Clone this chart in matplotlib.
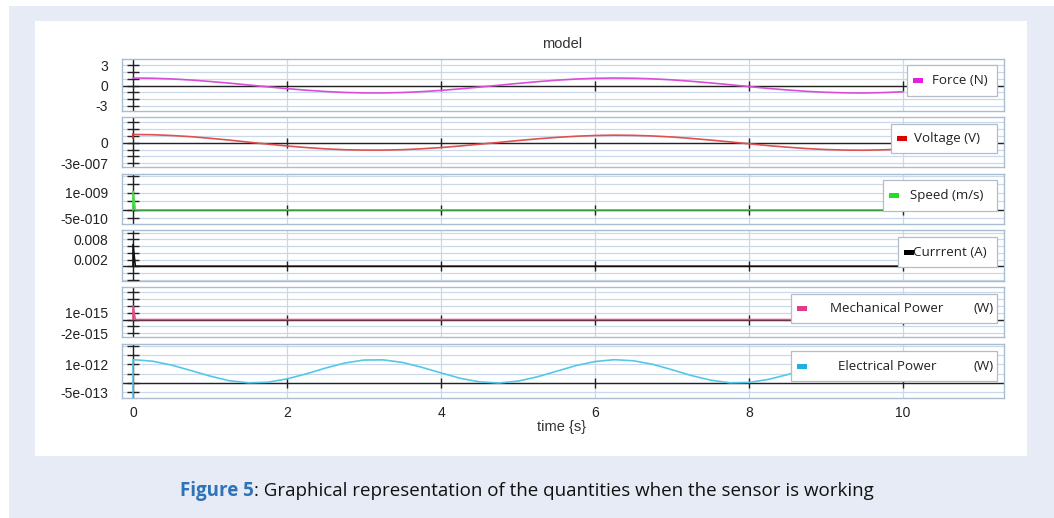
import matplotlib
matplotlib.use("Agg")
import matplotlib.pyplot as plt
from matplotlib.patches import Rectangle

# ---------------- data ----------------
time_s = [0.0, 0.25, 0.5, 0.75, 1.0, 1.25, 1.5, 1.75, 2.0, 2.25, 2.5, 2.75,
          3.0, 3.25, 3.5, 3.75, 4.0, 4.25, 4.5, 4.75, 5.0, 5.25, 5.5, 5.75,
          6.0, 6.25, 6.5, 6.75, 7.0, 7.25, 7.5, 7.75, 8.0, 8.25, 8.5, 8.75,
          9.0, 9.25, 9.5, 9.75, 10.0]

force_N = [1.10, 1.07, 0.97, 0.81, 0.59, 0.35, 0.08, -0.20, -0.46, -0.69, -0.88,
           -1.02, -1.09, -1.09, -1.03, -0.90, -0.72, -0.49, -0.23, 0.04, 0.31,
           0.56, 0.78, 0.95, 1.06, 1.10, 1.07, 0.98, 0.83, 0.62, 0.38, 0.12,
           -0.16, -0.43, -0.66, -0.86, -1.00, -1.08, -1.10, -1.04, -0.92]

voltage_V = [1.20e-7, 1.16e-7, 1.05e-7, 0.88e-7, 0.64e-7, 0.38e-7, 0.08e-7,
             -0.21e-7, -0.48e-7, -0.71e-7, -0.90e-7, -1.03e-7, -1.08e-7,
             -1.08e-7, -1.02e-7, -0.89e-7, -0.71e-7, -0.48e-7, -0.22e-7,
             0.04e-7, 0.31e-7, 0.56e-7, 0.77e-7, 0.94e-7, 1.05e-7, 1.10e-7,
             1.07e-7, 0.98e-7, 0.83e-7, 0.62e-7, 0.38e-7, 0.12e-7, -0.16e-7,
             -0.43e-7, -0.66e-7, -0.86e-7, -1.00e-7, -1.08e-7, -1.10e-7,
             -1.04e-7, -0.92e-7]
voltage_start_t = [0.0, 0.0]
voltage_start_V = [0.64e-7, 1.20e-7]

elec_power_W = [1.25e-12, 1.17e-12, 0.96e-12, 0.67e-12, 0.37e-12, 0.12e-12,
                0.01e-12, 0.04e-12, 0.22e-12, 0.49e-12, 0.80e-12, 1.07e-12,
                1.23e-12, 1.24e-12, 1.10e-12, 0.84e-12, 0.54e-12, 0.25e-12,
                0.06e-12, 0.00e-12, 0.10e-12, 0.33e-12, 0.63e-12, 0.93e-12,
                1.15e-12, 1.25e-12, 1.19e-12, 1.00e-12, 0.71e-12, 0.40e-12,
                0.15e-12, 0.01e-12, 0.03e-12, 0.19e-12, 0.45e-12, 0.76e-12,
                1.04e-12, 1.21e-12, 1.24e-12, 1.12e-12, 0.88e-12]
elec_start_t = [0.0, 0.0]
elec_start_W = [-0.78e-12, 1.25e-12]

spike_time_s = [0.0, 0.0, 0.03, 10.0]
speed_ms = [0.0, 1.1e-9, 0.0, 0.0]
current_A = [0.0, 0.0065, 0.0, 0.0]
mech_power_W = [0.0, 2.0e-15, 0.0, 0.0]

x_ticks = [0, 2, 4, 6, 8, 10]

# per-panel y grid values and labelled ticks
force_grid = [-3, -2, -1, 0, 1, 2, 3]
force_labels = {3: "3", 0: "0", -3: "-3"}
volt_grid = [-3e-7, -2e-7, -1e-7, 0, 1e-7, 2e-7, 3e-7]
volt_labels = {0: "0", -3e-7: "-3e-007"}
speed_grid = [-5e-10, 0, 5e-10, 1e-9, 1.5e-9, 2e-9]
speed_labels = {1e-9: "1e-009", -5e-10: "-5e-010"}
current_grid = [-0.004, -0.002, 0, 0.002, 0.004, 0.006, 0.008, 0.010]
current_labels = {0.008: "0.008", 0.002: "0.002"}
mech_grid = [-2e-15, -1e-15, 0, 1e-15, 2e-15, 3e-15, 4e-15]
mech_labels = {1e-15: "1e-015", -2e-15: "-2e-015"}
elec_grid = [-5e-13, 0, 5e-13, 1e-12, 1.5e-12, 2e-12]
elec_labels = {1e-12: "1e-012", -5e-13: "-5e-013"}

# ---------------- figure ----------------
W, H = 1054, 518
fig = plt.figure(figsize=(W / 100, H / 100), dpi=100)
fig.patch.set_facecolor("white")

def fx(px):
    return px / W

def fy(py):
    return 1 - py / H

# background frames
fig.add_artist(Rectangle((fx(9), 0), 1 - fx(9), fy(6), transform=fig.transFigure,
                         facecolor="#E6EBF5", edgecolor="none", zorder=-10))
fig.add_artist(Rectangle((fx(35), fy(456)), fx(1027 - 35), (456 - 21) / H,
                         transform=fig.transFigure, facecolor="white",
                         edgecolor="none", zorder=-9))

ax_left, ax_right = 122, 1004
panel_px = [(59, 111), (117, 167), (174, 224), (230, 281), (287, 337), (344, 398)]
xlim = (-0.143, 11.31)

tick_font = dict(family="Liberation Sans", size=10)
leg_font = ["Open Sans", "DejaVu Sans"]
leg_size = 9.6

panels = [
    dict(lines=[(time_s, force_N, "#D84ED8")], grid=force_grid, labels=force_labels,
         ylim=(-3.75, 3.9), patch="#E020E0",
         box=(907, 997, 65, 96), patch_x=913, text_x=932, text="Force (N)", unit=None),
    dict(lines=[(time_s, voltage_V, "#E05050"), (voltage_start_t, voltage_start_V, "#D03030")],
         grid=volt_grid, labels=volt_labels, ylim=(-3.55e-7, 3.75e-7), patch="#E00000",
         box=(891, 997, 124, 153), patch_x=897, text_x=914, text="Voltage (V)", unit=None),
    dict(lines=[(spike_time_s, speed_ms, "#44DD44")], grid=speed_grid, labels=speed_labels,
         ylim=(-8.3e-10, 2.1e-9), patch="#20E020",
         box=(883, 997, 180, 211), patch_x=889, text_x=910, text="Speed (m/s)", unit=None),
    dict(lines=[(spike_time_s, current_A, "#111111")], grid=current_grid, labels=current_labels,
         ylim=(-0.0044, 0.0108), patch="#000000",
         box=(898, 997, 237, 267), patch_x=904, text_x=913, text="Currrent (A)", unit=None),
    dict(lines=[(spike_time_s, mech_power_W, "#E0508A")], grid=mech_grid, labels=mech_labels,
         ylim=(-2.54e-15, 4.74e-15), patch="#E03C8C",
         box=(791, 997, 294, 323), patch_x=797, text_x=830, text="Mechanical Power", unit="(W)"),
    dict(lines=[(time_s, elec_power_W, "#55C8E8"), (elec_start_t, elec_start_W, "#55C8E8")],
         grid=elec_grid, labels=elec_labels, ylim=(-8.05e-13, 2.09e-12), patch="#20B0E0",
         box=(791, 997, 351, 381), patch_x=797, text_x=838, text="Electrical Power", unit="(W)"),
]

axes = []
for i, (p, (top, bot)) in enumerate(zip(panels, panel_px)):
    ax = fig.add_axes([fx(ax_left), fy(bot), (ax_right - ax_left) / W, (bot - top) / H])
    axes.append(ax)
    ax.set_xlim(*xlim)
    ax.set_ylim(*p["ylim"])
    for s in ax.spines.values():
        s.set_color("#A9BDD2")
        s.set_linewidth(1.0)
    ax.set_yticks(p["grid"])
    ax.set_yticklabels([p["labels"].get(v, "") for v in p["grid"]], **tick_font)
    ax.set_xticks(x_ticks)
    ax.tick_params(axis="both", length=0, pad=10, colors="#222222")
    if i < len(panels) - 1:
        ax.set_xticklabels([])
    else:
        ax.set_xticklabels([str(v) for v in x_ticks], **tick_font)
        ax.tick_params(axis="x", pad=6)
    ax.grid(True, color="#C9D8EA", linewidth=0.9)
    ax.set_axisbelow(True)
    # zero line and axis cross at x=0
    ax.axhline(0, color="#222222", linewidth=1.0, zorder=2)
    ax.axvline(0, color="#222222", linewidth=1.0, zorder=2)
    ax.plot([0] * len(p["grid"]), p["grid"], ls="none", marker="_", ms=9,
            mew=1.0, color="#222222", zorder=3, clip_on=False)
    ax.plot(x_ticks[1:], [0] * (len(x_ticks) - 1), ls="none", marker="|", ms=7,
            mew=1.0, color="#222222", zorder=3)
    for (tx, ty, c) in p["lines"]:
        ax.plot(tx, ty, color=c, linewidth=1.2, zorder=4)

    # legend box
    x0, x1, y0, y1 = p["box"]
    fig.add_artist(Rectangle((fx(x0), fy(y1)), (x1 - x0) / W, (y1 - y0) / H,
                             transform=fig.transFigure, facecolor="white",
                             edgecolor="#B4BCC8", linewidth=0.9, zorder=10))
    yc = (y0 + y1) / 2
    fig.add_artist(Rectangle((fx(p["patch_x"]), fy(yc + 2.5)), 10 / W, 5 / H,
                             transform=fig.transFigure, facecolor=p["patch"],
                             edgecolor="none", zorder=11))
    fig.text(fx(p["text_x"]), fy(yc), p["text"], ha="left", va="center",
             family=leg_font, fontsize=leg_size, color="#222222", zorder=12)
    if p["unit"]:
        fig.text(fx(x1 - 3), fy(yc), p["unit"], ha="right", va="center",
                 family=leg_font, fontsize=leg_size, color="#222222", zorder=12)

fig.text(fx(562), fy(44), "model", ha="center", va="center",
         family="Liberation Sans", fontsize=10.5, color="#333333")
fig.text(fx(562), fy(427), "time {s}", ha="center", va="center",
         family="Liberation Sans", fontsize=10.5, color="#333333")

# caption
cap_size = 13.5
cap1 = fig.text(fx(180), fy(491), "Figure 5", ha="left", va="center",
                family=["Open Sans", "DejaVu Sans"], fontsize=cap_size,
                fontweight="bold", color="#2E72B8")
fig.canvas.draw()
bb = cap1.get_window_extent()
fig.text(bb.x1 / W, fy(491), ": Graphical representation of the quantities when the sensor is working",
         ha="left", va="center", family=["Open Sans", "DejaVu Sans"], fontsize=cap_size,
         color="#111111")

fig.savefig("out.png", dpi=100, facecolor=fig.get_facecolor())
